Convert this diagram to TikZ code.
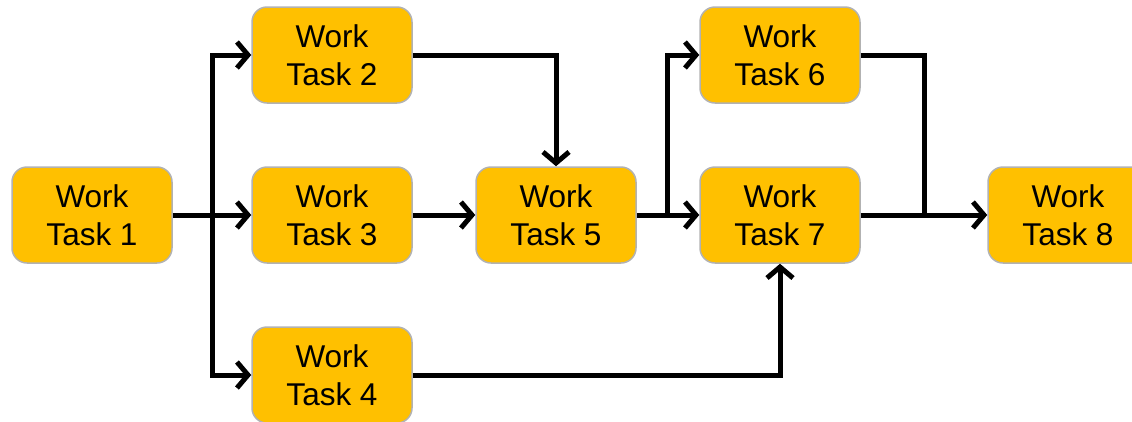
\documentclass[tikz,border=0pt]{standalone}
\usepackage{fontspec}
\setmainfont{Liberation Sans}
\usetikzlibrary{arrows.meta}
\begin{document}
\begin{tikzpicture}[x=1pt,y=-1pt,
  taskbox/.style={draw=black!30, line width=1.5pt, rounded corners=15pt,
    minimum width=160pt, minimum height=96pt, inner sep=0pt, align=center,
    font=\fontsize{31.5}{38}\selectfont},
  flow/.style={line width=5pt, -{Straight Barb[length=11pt,width=26pt]}},
  link/.style={line width=5pt}]
\definecolor{taskfill}{HTML}{FFC000}
\tikzset{taskbox/.append style={fill=taskfill}}
\useasboundingbox (0,0) rectangle (1132,421);
\node[taskbox] (t1) at (92,215) {Work\\Task 1};
\node[taskbox] (t2) at (332,55) {Work\\Task 2};
\node[taskbox] (t3) at (332,215) {Work\\Task 3};
\node[taskbox] (t4) at (332,375) {Work\\Task 4};
\node[taskbox] (t5) at (556,215) {Work\\Task 5};
\node[taskbox] (t6) at (780,55) {Work\\Task 6};
\node[taskbox] (t7) at (780,215) {Work\\Task 7};
\node[taskbox] (t8) at (1068,215) {Work\\Task 8};
% fan-out from task 1
\coordinate (s1) at (212,215);
\draw[flow] (t1) -- (t3);
\draw[flow] (s1) |- (t2);
\draw[flow] (s1) |- (t4);
% into task 5
\draw[flow] (t2.east) -| (t5.north);
\draw[flow] (t3) -- (t5);
% fan-out from task 5
\coordinate (s5) at (667,215);
\draw[flow] (t5) -- (t7);
\draw[flow] (s5) |- (t6);
% into task 7 from task 4
\draw[flow] (t4.east) -| (t7.south);
% into task 8
\coordinate (m8) at (924,215);
\draw[link] (t6.east) -| (m8);
\draw[flow] (t7) -- (t8);
\end{tikzpicture}
\end{document}
